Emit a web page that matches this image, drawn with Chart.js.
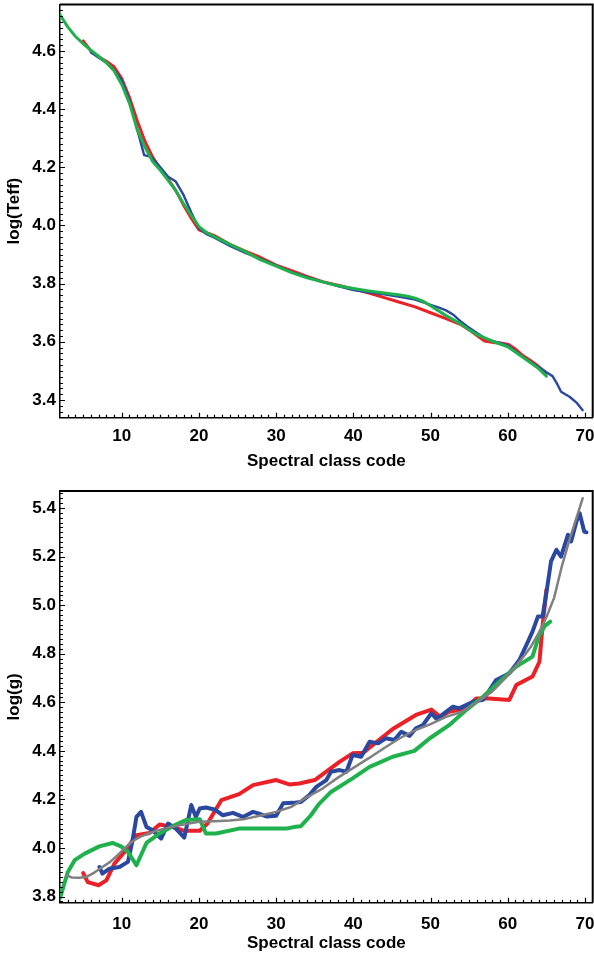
<!DOCTYPE html>
<html>
<head>
<meta charset="utf-8">
<title>log(Teff) and log(g) against spectral class code</title>
<script src="https://cdn.jsdelivr.net/npm/chart.js@4.4.0/dist/chart.umd.min.js"></script>
<style>
  html, body { margin: 0; padding: 0; background: #fff; }
  canvas { display: block; }
</style>
</head>
<body>
<canvas id="teffChart" width="594" height="480"></canvas>
<canvas id="loggChart" width="594" height="483"></canvas>
<script>
// tick labels
const codeTicks = [10, 20, 30, 40, 50, 60, 70];
const teffTicks = [3.4, 3.6, 3.8, 4.0, 4.2, 4.4, 4.6];
const loggTicks = [3.8, 4.0, 4.2, 4.4, 4.6, 4.8, 5.0, 5.2, 5.4];

// log(Teff) series
const teffRedCode = [5, 6, 7, 8, 9, 10, 11, 12, 13, 14, 15, 16, 17, 18, 19, 20, 21, 22, 24, 26, 28, 30, 32, 34, 36, 38, 40, 42, 44, 46, 48, 50, 52, 54, 55, 56, 57, 58, 59, 60, 61, 62, 63, 64, 65];
const teffRedVal = [4.635, 4.60, 4.58, 4.565, 4.546, 4.505, 4.44, 4.36, 4.29, 4.235, 4.195, 4.16, 4.12, 4.07, 4.025, 3.985, 3.975, 3.965, 3.935, 3.912, 3.89, 3.864, 3.845, 3.825, 3.807, 3.795, 3.782, 3.768, 3.752, 3.736, 3.72, 3.70, 3.68, 3.658, 3.641, 3.622, 3.603, 3.598, 3.596, 3.592, 3.575, 3.552, 3.535, 3.515, 3.492];

const teffBlueCode = [6, 7, 8, 9, 10, 11, 12, 12.9, 13.8, 15, 16, 17, 18, 19, 20, 21, 22, 24, 25.5, 26, 28, 30, 32, 34, 36, 38, 40, 42, 44, 46, 48, 50, 51, 52, 53, 54, 55, 56, 57, 58, 59, 60, 61, 62, 63, 64, 65, 65.8, 66.4, 66.9, 68, 68.9, 69.7];
const teffBlueVal = [4.595, 4.578, 4.56, 4.535, 4.50, 4.43, 4.33, 4.242, 4.236, 4.20, 4.168, 4.151, 4.105, 4.045, 3.99, 3.97, 3.958, 3.93, 3.912, 3.906, 3.885, 3.862, 3.84, 3.822, 3.806, 3.792, 3.778, 3.77, 3.763, 3.755, 3.745, 3.727, 3.718, 3.708, 3.692, 3.668, 3.648, 3.63, 3.613, 3.603, 3.596, 3.588, 3.568, 3.548, 3.53, 3.513, 3.495, 3.482, 3.455, 3.428, 3.411, 3.391, 3.365];

const teffGreenCode = [2, 3, 4, 5, 6, 7, 8, 9, 10, 11, 12, 13, 14, 15, 16, 17, 18, 19, 20, 21, 22, 24, 26, 28, 30, 32, 34, 36, 38, 40, 42, 44, 46, 47, 48, 49, 50, 52, 54, 55, 56, 58, 60, 62, 64, 65];
const teffGreenVal = [4.725, 4.683, 4.65, 4.625, 4.603, 4.582, 4.56, 4.532, 4.485, 4.42, 4.33, 4.27, 4.22, 4.19, 4.155, 4.12, 4.075, 4.035, 3.996, 3.975, 3.962, 3.935, 3.91, 3.882, 3.86, 3.838, 3.82, 3.806, 3.793, 3.783, 3.775, 3.768, 3.761, 3.757, 3.75, 3.74, 3.724, 3.69, 3.66, 3.641, 3.625, 3.602, 3.583, 3.546, 3.508, 3.482];

// log(g) series
const loggRedCode = [5, 5.6, 7, 8, 9.05, 10.35, 11.9, 13.6, 14.9, 16.6, 18.1, 20.1, 21.1, 22.9, 25.2, 27, 30, 31.7, 33, 35, 38.2, 39.9, 41.3, 42.5, 45.1, 48.1, 50.1, 51.2, 52.4, 54.6, 55.9, 57.6, 60.2, 61.1, 63.2, 64.1, 64.5, 65];
const loggRedVal = [3.897, 3.86, 3.847, 3.867, 3.936, 3.984, 4.053, 4.062, 4.097, 4.087, 4.071, 4.071, 4.101, 4.197, 4.222, 4.259, 4.28, 4.262, 4.266, 4.28, 4.355, 4.39, 4.392, 4.424, 4.49, 4.548, 4.57, 4.541, 4.561, 4.575, 4.616, 4.616, 4.61, 4.671, 4.706, 4.767, 4.912, 5.063];

const loggBlueCode = [7.1, 7.5, 8.4, 9.7, 10.8, 11.4, 11.9, 12.5, 13.2, 14, 15.1, 16, 17, 18.1, 19, 19.6, 20.1, 20.9, 22, 23.1, 24.4, 25.7, 27, 27.8, 28.7, 30, 30.9, 32.2, 33.2, 34.3, 35.2, 36.5, 37.1, 38.2, 39.1, 39.9, 41, 42.1, 43.2, 44.2, 45.3, 46.2, 47.3, 48.1, 49, 50.1, 50.7, 51.2, 52.9, 53.7, 55.5, 56.8, 58.5, 59.4, 60.2, 61.5, 62.6, 63.2, 63.9, 64.5, 65, 65.6, 66.3, 66.9, 67.8, 68.2, 68.9, 69.3, 69.9, 70.2];
const loggBlueVal = [3.922, 3.895, 3.915, 3.922, 3.943, 4.032, 4.128, 4.149, 4.087, 4.073, 4.039, 4.101, 4.08, 4.043, 4.177, 4.128, 4.163, 4.167, 4.159, 4.135, 4.145, 4.128, 4.149, 4.142, 4.13, 4.133, 4.184, 4.186, 4.19, 4.218, 4.252, 4.28, 4.314, 4.321, 4.314, 4.383, 4.376, 4.438, 4.431, 4.452, 4.445, 4.479, 4.462, 4.493, 4.506, 4.555, 4.534, 4.541, 4.582, 4.575, 4.602, 4.61, 4.692, 4.706, 4.72, 4.774, 4.849, 4.891, 4.953, 4.953, 5.05, 5.18, 5.228, 5.2, 5.29, 5.262, 5.345, 5.379, 5.303, 5.3];

const loggGreenCode = [2, 3, 3.9, 5.2, 7.1, 8.8, 9.9, 10.8, 11.9, 13.2, 14.9, 16.6, 18.3, 20.1, 20.9, 22.2, 25.2, 28.7, 31.3, 32.5, 33.2, 34.5, 35.5, 37.1, 39.9, 42.1, 45.1, 47.9, 49.9, 52.4, 54.6, 56.8, 58.9, 61.1, 63.2, 64, 64.8, 65.5];
const loggGreenVal = [3.795, 3.90, 3.95, 3.977, 4.007, 4.021, 4.007, 3.984, 3.929, 4.021, 4.06, 4.09, 4.115, 4.119, 4.06, 4.06, 4.08, 4.08, 4.08, 4.088, 4.09, 4.135, 4.18, 4.231, 4.287, 4.334, 4.376, 4.40, 4.452, 4.506, 4.568, 4.623, 4.685, 4.747, 4.788, 4.87, 4.915, 4.932];

const loggFitCode = [2.8, 3.5, 4.5, 5.5, 6.5, 7.5, 8.5, 9.5, 10.5, 11.5, 12.5, 14, 15.5, 17, 18.5, 20, 22, 24, 26, 28, 30, 32, 34, 36, 38, 40, 42, 44, 46, 48, 50, 52, 54, 56, 58, 60, 61, 62, 63, 64, 65, 66, 67, 68, 69, 69.7];
const loggFitVal = [3.888, 3.879, 3.878, 3.882, 3.90, 3.922, 3.943, 3.972, 4.003, 4.03, 4.048, 4.066, 4.08, 4.091, 4.10, 4.108, 4.11, 4.113, 4.12, 4.134, 4.149, 4.17, 4.21, 4.245, 4.29, 4.33, 4.37, 4.412, 4.452, 4.485, 4.51, 4.54, 4.56, 4.60, 4.645, 4.71, 4.747, 4.787, 4.829, 4.885, 4.95, 5.03, 5.16, 5.27, 5.37, 5.44];

const RED = '#ec2027';
const BLUE = '#2a48a0';
const GREEN = '#1eb14c';
const GREY = '#808080';

Chart.defaults.font.family = '"Liberation Sans", Arial, sans-serif';
Chart.defaults.font.size = 17;
Chart.defaults.font.weight = 'bold';
Chart.defaults.color = '#000';

const pts = (codes, vals) => codes.map((c, i) => ({ x: c, y: vals[i] }));

const line = (codes, vals, color, width) => ({
  data: pts(codes, vals),
  borderColor: color,
  borderWidth: width,
  pointRadius: 0,
  fill: false,
  tension: 0,
  borderJoinStyle: 'round',
  borderCapStyle: 'round',
});

// inward minor/major ticks on the left and bottom axes, plus the top/right frame
const frameTicks = {
  id: 'frameTicks',
  afterDraw(chart) {
    const { ctx, chartArea: a, scales: { x, y } } = chart;
    ctx.save();
    ctx.strokeStyle = '#000';
    ctx.lineWidth = 1.2;
    ctx.beginPath();
    for (let v = Math.floor(x.min) + 1; v < x.max; v++) {
      const px = Math.round(x.getPixelForValue(v)) + 0.5;
      const len = v % 10 === 0 ? 5 : 3;
      ctx.moveTo(px, a.bottom);
      ctx.lineTo(px, a.bottom - len);
    }
    const step = 0.02;
    for (let i = Math.ceil(y.min / step); i * step < y.max; i++) {
      const py = Math.round(y.getPixelForValue(i * step)) + 0.5;
      const len = i % 10 === 0 ? 5 : 3;
      ctx.moveTo(a.left, py);
      ctx.lineTo(a.left + len, py);
    }
    ctx.stroke();

    ctx.lineWidth = 2;
    ctx.beginPath();
    ctx.moveTo(a.left, a.top);
    ctx.lineTo(a.right, a.top);
    ctx.lineTo(a.right, a.bottom);
    ctx.stroke();
    ctx.restore();
  }
};

function makeOptions(cfg) {
  return {
    responsive: false,
    animation: false,
    events: [],
    layout: { padding: { top: cfg.padTop, right: 1.3, left: 0, bottom: 0 } },
    plugins: { legend: { display: false }, tooltip: { enabled: false } },
    scales: {
      x: {
        type: 'linear',
        min: 2,
        max: 71,
        grid: { display: false, drawTicks: false },
        border: { display: true, color: '#000', width: 1.5 },
        ticks: {
          autoSkip: false,
          maxRotation: 0,
          padding: cfg.xTickPad,
          callback: v => String(v),
        },
        afterBuildTicks: scale => { scale.ticks = codeTicks.map(v => ({ value: v })); },
        afterFit: scale => {
          scale.height = cfg.xHeight;
          scale.paddingLeft = 0;
          scale.paddingRight = 0;
        },
        title: {
          display: true,
          text: 'Spectral class code',
          padding: { top: 0, bottom: cfg.xTitlePad },
        },
      },
      y: {
        type: 'linear',
        min: cfg.yMin,
        max: cfg.yMax,
        grid: { display: false, drawTicks: false },
        border: { display: true, color: '#000', width: 1.5 },
        ticks: {
          autoSkip: false,
          padding: 4,
          callback: v => v.toFixed(1),
        },
        afterBuildTicks: scale => { scale.ticks = cfg.yTicks.map(v => ({ value: v })); },
        afterFit: scale => {
          scale.width = 60;
          scale.paddingTop = 0;
          scale.paddingBottom = 0;
        },
        title: {
          display: true,
          text: cfg.yTitle,
          padding: { top: 4, bottom: 0 },
        },
      },
    },
  };
}

new Chart(document.getElementById('teffChart'), {
  type: 'line',
  data: {
    datasets: [
      line(teffGreenCode, teffGreenVal, GREEN, 3),
      line(teffBlueCode, teffBlueVal, BLUE, 2.4),
      line(teffRedCode, teffRedVal, RED, 3),
    ],
  },
  options: makeOptions({
    padTop: 4.5, xHeight: 62.3, xTickPad: 8, xTitlePad: 8.5,
    yMin: 3.339, yMax: 4.76, yTicks: teffTicks, yTitle: 'log(Teff)',
  }),
  plugins: [frameTicks],
});

new Chart(document.getElementById('loggChart'), {
  type: 'line',
  data: {
    datasets: [
      line(loggFitCode, loggFitVal, GREY, 2.5),
      line(loggGreenCode, loggGreenVal, GREEN, 4),
      line(loggBlueCode, loggBlueVal, BLUE, 4),
      line(loggRedCode, loggRedVal, RED, 4),
    ],
  },
  options: makeOptions({
    padTop: 11, xHeight: 60.3, xTickPad: 11, xTitlePad: 9.5,
    yMin: 3.775, yMax: 5.47, yTicks: loggTicks, yTitle: 'log(g)',
  }),
  plugins: [frameTicks],
});
</script>
</body>
</html>
